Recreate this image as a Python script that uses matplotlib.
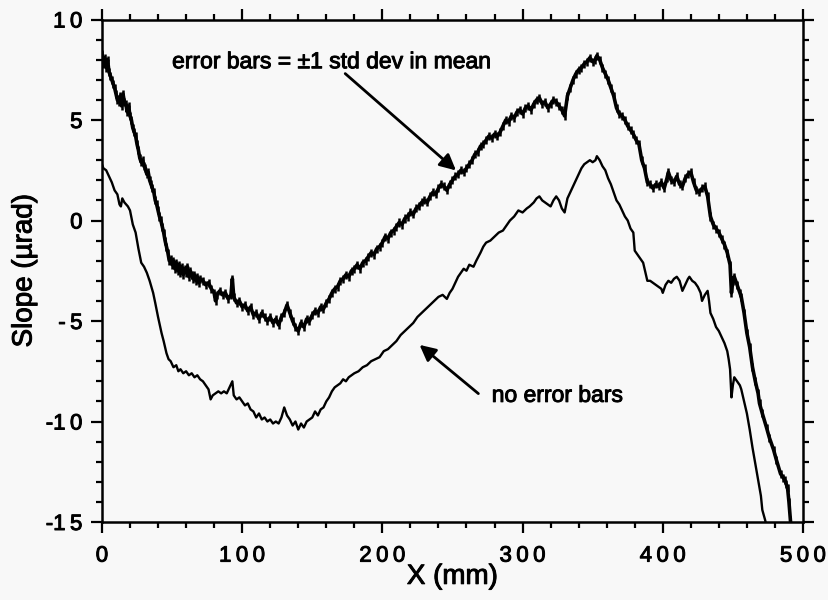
import matplotlib
matplotlib.use("Agg")
import matplotlib.pyplot as plt
import matplotlib.patheffects as pe
from matplotlib.ticker import MultipleLocator

# lower trace: no error bars
low_x = [0, 1, 3, 5, 7, 9, 11, 12.5, 13.5, 14.5, 16, 18.5, 20, 22, 24, 26, 28, 30, 32, 34,
         36.5, 38, 40, 42.5, 44, 46, 47.5, 49, 51, 53, 54.5, 56, 58, 60, 62, 64, 66, 68, 70, 72,
         74, 76, 77.5, 79, 81, 83, 85, 87, 89, 91, 93, 94, 96, 98, 100, 102, 104, 106, 108, 110,
         112, 114, 116, 118, 120, 122, 124, 126, 128, 130, 132, 134, 136, 138, 140, 142, 144, 146, 148, 150,
         152, 154, 156, 158, 160, 162, 164, 166, 168, 170, 172, 174, 176, 178, 180, 183, 186, 189, 192, 195,
         198, 201, 204, 207, 210, 213, 216, 219, 222, 225, 228, 231, 234, 237, 240, 243, 246, 248, 250, 252,
         254, 256, 258, 260, 262, 265, 267, 270, 272, 274, 277, 280, 283, 286, 289, 291, 294, 297, 300, 303,
         305, 308, 310, 312, 314, 316, 318, 320, 322, 324, 326, 328, 330, 332, 334, 336, 338, 340, 342, 344,
         346, 348, 350, 352, 353, 355, 357, 359, 361, 363, 365, 367, 369, 371, 373, 375, 377, 379, 380, 382,
         384, 386, 388, 389, 391, 393, 395, 397, 399, 400, 402, 404, 406, 408, 410, 412, 414, 416, 418, 419,
         421, 423, 425, 427, 428, 430, 432, 433, 434, 436, 438, 440, 442, 444, 446, 447, 448, 449, 450, 451,
         453, 455, 456, 458, 460, 462, 464, 466, 468, 470, 471, 473, 474]
low_y = [2.8, 2.6, 2.5, 2.2, 1.9, 1.5, 1.3, 0.8, 0.7, 1.1, 0.9, 0.7, 0.5, -0.2, -0.6, -1.4, -2.1, -2.3, -2.6, -3.0,
         -3.6, -4.1, -4.8, -5.6, -6.0, -6.6, -6.9, -7.0, -7.3, -7.2, -7.5, -7.4, -7.6, -7.5, -7.7, -7.6, -7.8, -7.7, -7.9, -8.0,
         -8.2, -8.4, -8.9, -8.7, -8.6, -8.5, -8.6, -8.5, -8.6, -8.3, -8.0, -8.7, -8.9, -8.8, -9.0, -9.2, -9.1, -9.4, -9.5, -9.8,
         -9.6, -9.9, -9.8, -10.0, -9.9, -10.1, -10.0, -10.1, -9.8, -9.3, -9.7, -9.9, -10.2, -10.0, -10.4, -10.1, -10.3, -10.0, -9.9, -9.8,
         -9.5, -9.7, -9.4, -9.3, -9.0, -8.8, -8.5, -8.3, -8.2, -8.1, -7.9, -8.0, -7.8, -7.7, -7.6, -7.5, -7.3, -7.2, -7.0, -6.9,
         -6.8, -6.5, -6.4, -6.2, -6.0, -5.7, -5.5, -5.3, -5.1, -4.8, -4.6, -4.4, -4.2, -4.0, -3.8, -3.7, -3.9, -3.6, -3.4, -3.1,
         -2.8, -2.6, -2.4, -2.5, -2.2, -2.3, -2.0, -1.6, -1.3, -1.1, -1.0, -0.8, -0.6, -0.5, -0.2, 0.0, 0.2, 0.5, 0.4, 0.6,
         0.7, 0.9, 1.1, 1.2, 1.0, 0.9, 0.8, 0.7, 1.0, 1.2, 1.0, 0.6, 0.4, 1.1, 1.4, 1.7, 2.0, 2.3, 2.6, 2.8,
         2.9, 3.0, 2.9, 3.0, 3.2, 3.0, 2.7, 2.5, 2.1, 1.8, 1.4, 1.0, 0.8, 0.5, 0.2, 0.0, -0.4, -0.6, -1.5, -1.7,
         -1.9, -2.1, -2.7, -3.0, -3.0, -3.1, -3.2, -3.3, -3.4, -3.6, -3.2, -3.0, -3.1, -2.9, -2.8, -3.0, -3.5, -3.2, -2.9, -2.8,
         -3.0, -3.1, -3.3, -3.6, -4.0, -3.7, -3.5, -4.0, -4.6, -4.9, -5.3, -5.5, -5.8, -6.1, -6.5, -6.9, -7.4, -8.8, -8.2, -7.8,
         -8.0, -8.2, -8.4, -9.0, -9.6, -10.4, -11.3, -12.1, -12.9, -13.7, -14.4, -14.9, -15.2]

# upper trace: with error bars
up_x = [0, 1, 2, 3, 4, 5, 6, 7, 8, 9, 10, 11, 12, 13, 14, 15, 16, 17, 18, 19,
        20, 21, 22, 23, 24, 25, 26, 27, 28, 29, 30, 31, 32, 33, 34, 35, 36, 37, 38, 39,
        40, 41, 42, 43, 44, 45, 46, 47, 48, 49, 50, 51, 52, 53, 54, 55, 56, 57, 58, 59,
        60, 61, 62, 63, 64, 65, 66, 67, 68, 69, 70, 72, 74, 76, 78, 80, 81, 82, 84, 86,
        88, 90, 92, 93, 94, 96, 98, 100, 102, 104, 106, 108, 110, 112, 114, 116, 118, 120, 122, 124,
        126, 128, 130, 132, 134, 136, 138, 140, 142, 144, 146, 148, 150, 152, 154, 156, 158, 160, 162, 164,
        166, 168, 170, 172, 174, 176, 178, 180, 182, 184, 186, 188, 190, 192, 194, 196, 198, 200, 202, 204,
        206, 208, 210, 212, 214, 216, 218, 220, 222, 224, 226, 228, 230, 232, 234, 236, 238, 240, 242, 244,
        246, 248, 250, 252, 254, 256, 258, 260, 262, 264, 266, 268, 270, 272, 274, 276, 278, 280, 282, 284,
        286, 288, 290, 292, 294, 296, 298, 300, 302, 304, 306, 308, 310, 312, 314, 316, 318, 320, 322, 324,
        326, 328, 330, 332, 334, 336, 338, 340, 342, 344, 346, 348, 350, 352, 353, 355, 357, 359, 361, 363,
        365, 367, 369, 371, 373, 375, 377, 379, 381, 383, 385, 387, 389, 391, 393, 395, 397, 399, 401, 403,
        404, 406, 408, 410, 412, 414, 416, 418, 420, 422, 424, 426, 428, 430, 432, 434, 436, 438, 440, 442,
        444, 446, 448, 449, 450, 451, 453, 455, 456, 458, 460, 462, 464, 466, 468, 469, 471, 474, 476, 479,
        481, 484, 486, 487, 488, 489, 490, 491, 491.5]
up_y = [8.3, 7.8, 8.1, 7.6, 8.0, 7.4, 7.2, 7.0, 6.8, 6.6, 6.3, 6.0, 5.9, 6.2, 5.7, 6.3, 5.9, 5.8, 5.4, 5.7,
        5.2, 5.0, 4.6, 4.4, 4.2, 3.8, 3.5, 3.1, 2.9, 3.0, 2.7, 2.6, 2.3, 2.4, 2.0, 1.8, 1.6, 1.4, 1.0, 0.8,
        0.5, 0.2, 0.0, -0.3, -0.6, -1.0, -1.3, -1.6, -2.0, -1.9, -2.2, -2.0, -2.4, -2.1, -2.5, -2.2, -2.6, -2.3, -2.7, -2.4,
        -2.6, -2.3, -2.8, -2.5, -2.7, -2.9, -2.7, -3.0, -2.8, -3.1, -2.9, -3.0, -3.2, -3.1, -3.4, -3.6, -4.0, -3.7, -3.5, -3.7,
        -3.6, -3.9, -3.7, -2.9, -3.8, -4.1, -4.0, -4.3, -4.2, -4.5, -4.3, -4.7, -4.6, -4.9, -4.6, -4.8, -5.0, -4.8, -5.1, -4.9,
        -5.2, -4.8, -4.6, -4.2, -4.6, -5.0, -5.3, -5.5, -5.1, -5.3, -4.9, -5.0, -4.7, -4.5, -4.6, -4.3, -4.4, -4.1, -3.9, -3.6,
        -3.4, -3.3, -3.0, -2.9, -2.7, -2.8, -2.5, -2.4, -2.2, -2.4, -2.1, -2.0, -1.8, -1.6, -1.7, -1.4, -1.3, -1.1, -0.8, -0.9,
        -0.6, -0.5, -0.3, -0.1, -0.2, 0.1, 0.2, 0.4, 0.3, 0.6, 0.7, 0.9, 1.0, 0.9, 1.2, 1.4, 1.3, 1.6, 1.8, 1.7,
        1.5, 1.8, 2.0, 2.2, 2.3, 2.5, 2.4, 2.6, 2.8, 3.0, 3.3, 3.4, 3.7, 3.8, 4.0, 4.2, 4.1, 4.3, 4.2, 4.4,
        4.7, 5.0, 4.9, 5.2, 5.1, 5.4, 5.5, 5.3, 5.6, 5.7, 5.5, 5.8, 6.0, 6.1, 5.8, 5.9, 5.6, 5.8, 6.0, 5.9,
        5.7, 5.5, 5.2, 6.2, 6.6, 7.0, 7.3, 7.5, 7.6, 7.8, 7.9, 8.1, 7.9, 8.0, 8.2, 8.0, 7.6, 7.3, 7.0, 6.6,
        6.2, 5.6, 5.3, 5.2, 5.0, 4.7, 4.5, 4.3, 4.0, 3.8, 3.0, 2.6, 1.9, 1.8, 1.6, 1.8, 1.7, 1.9, 1.6, 2.1,
        2.4, 2.0, 1.9, 2.2, 1.8, 1.7, 2.1, 2.3, 2.4, 1.9, 1.5, 1.4, 1.6, 1.7, 1.2, 0.2, -0.2, -0.4, -0.6, -0.9,
        -1.2, -1.6, -2.2, -3.6, -3.0, -2.8, -3.2, -3.6, -3.8, -4.6, -5.6, -6.3, -7.3, -8.0, -8.6, -9.1, -9.6, -10.3, -10.8, -11.4,
        -11.9, -12.6, -12.8, -12.9, -13.1, -13.3, -14.0, -14.9, -15.3]
up_err = 0.2  # +-1 std dev in mean

x_ticks = [0, 100, 200, 300, 400, 500]
x_tick_labels = ["0", "1\u20090\u20090", "2\u20090\u20090", "3\u20090\u20090", "4\u20090\u20090", "5\u20090\u20090"]
y_ticks = [10, 5, 0, -5, -10, -15]
y_tick_labels = ["1\u20090", "5", "0", "-\u20095", "-1\u20090", "-1\u20095"]

plt.rcParams['font.family'] = ['Liberation Sans', 'DejaVu Sans']
bg = '#f8f8f8'
heavy = [pe.withStroke(linewidth=0.7, foreground='black')]

fig = plt.figure(figsize=(8.29, 6.0), dpi=100, facecolor=bg)
ax = fig.add_axes([0.123, 0.13, 0.8456, 0.8375], facecolor=bg)

ax.plot(low_x, low_y, color='black', lw=1.7)
ax.errorbar(up_x, up_y, yerr=up_err, color='black', lw=2.6, elinewidth=1.8, capsize=0)

ax.set_xlim(0, 500)
ax.set_ylim(-15, 10)
ax.set_xticks(x_ticks)
ax.set_xticklabels(x_tick_labels)
ax.set_yticks(y_ticks)
ax.set_yticklabels(y_tick_labels)
ax.xaxis.set_minor_locator(MultipleLocator(20))
ax.yaxis.set_minor_locator(MultipleLocator(1))
ax.tick_params(which='both', direction='out', top=True, right=True, width=1.6, labelsize=16)
ax.tick_params(which='major', length=8)
ax.tick_params(which='minor', length=4)
ax.tick_params(axis='x', pad=9)
ax.tick_params(axis='y', pad=6)
for lab in ax.get_xticklabels() + ax.get_yticklabels():
    lab.set_path_effects(heavy)
for s in ax.spines.values():
    s.set_linewidth(1.8)

xl = ax.set_xlabel('X (mm)', fontsize=20, labelpad=-2)
yl = ax.set_ylabel('Slope (µrad)', fontsize=20, labelpad=6)
xl.set_path_effects(heavy)
yl.set_path_effects(heavy)

ax.annotate('', xy=(254, 2.4), xytext=(172, 7.4),
            arrowprops=dict(arrowstyle='-|>', color='black', lw=2.0, mutation_scale=24))
t1 = ax.text(50, 7.9, 'error bars = ±1 std dev in mean', fontsize=16.5, va='center', ha='left')

ax.annotate('', xy=(225, -6.1), xytext=(270, -8.7),
            arrowprops=dict(arrowstyle='-|>', color='black', lw=2.0, mutation_scale=24))
t2 = ax.text(278, -8.7, 'no error bars', fontsize=16.5, va='center', ha='left')
t1.set_path_effects(heavy)
t2.set_path_effects(heavy)

fig.savefig('out.png', dpi=100, facecolor=bg)
